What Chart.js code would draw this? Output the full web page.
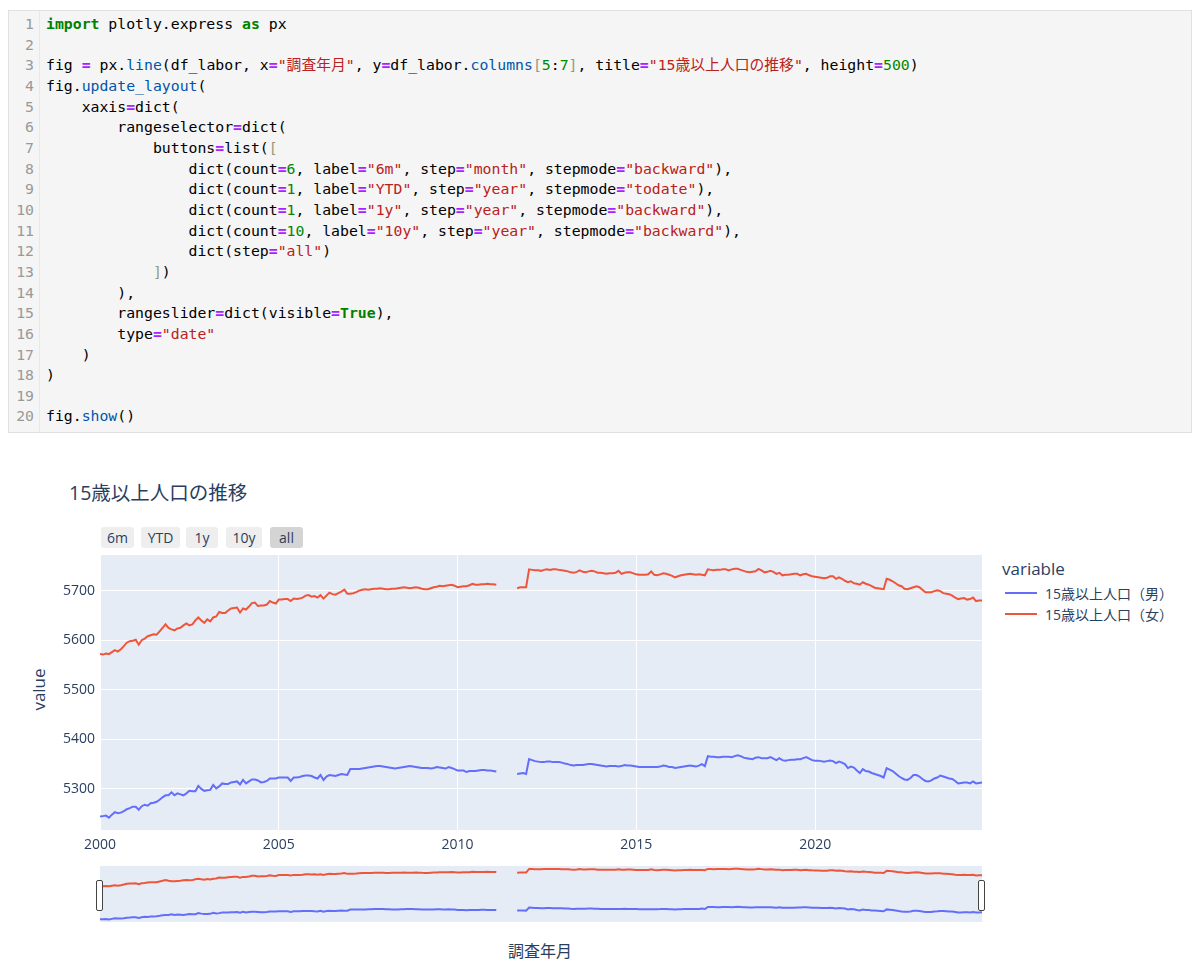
<!DOCTYPE html>
<html>
<head>
<meta charset="utf-8">
<script src="https://cdn.jsdelivr.net/npm/chart.js@4.4.1/dist/chart.umd.min.js"></script>
<style>
  body { margin: 0; background: #fff; }
  #page { position: relative; width: 1200px; height: 968px; overflow: hidden; }
  .cell { position: absolute; left: 8px; top: 10px; width: 1184px; height: 423px;
    background: #f5f5f5; border: 1px solid #e0e0e0; box-sizing: border-box; }
  .gutter { position: absolute; left: 0; top: 0; width: 30px; height: 100%;
    border-right: 1px solid #e8e8e8; }
  pre { margin: 0; position: absolute; top: 3px;
    font-family: "DejaVu Sans Mono", "Noto Sans CJK JP", monospace; font-size: 14.8px; line-height: 20.65px; }
  pre.nums { left: 0; width: 25px; text-align: right; color: #999; }
  pre.code { left: 37px; color: #000; }
  .k { color: #008000; font-weight: bold; }
  .o { color: #aa22ff; font-weight: bold; }
  .s { color: #ba2121; }
  .n { color: #008800; }
  .p { color: #0055aa; }
  .b { color: #999977; }
  .txt { position: absolute; font-family: "Open Sans", "Noto Sans CJK JP", sans-serif; color: #2a3f5f; white-space: nowrap; }
  .btn { position: absolute; top: 527px; height: 21px; background: #eeeeee; border-radius: 3px;
    font-family: "Open Sans", sans-serif; font-size: 14px; color: #2a3f5f; text-align: center; line-height: 21px; }
  .handle { position: absolute; top: 880px; width: 5px; height: 29px; background: #fff;
    border: 1px solid #444; border-radius: 2px; }
  .swatch { position: absolute; width: 32px; height: 2px; }
</style>
</head>
<body>
<div id="page">
<div class="cell">
<div class="gutter"></div>
<pre class="nums">1
2
3
4
5
6
7
8
9
10
11
12
13
14
15
16
17
18
19
20</pre>
<pre class="code"><span class="k">import</span> plotly.express <span class="k">as</span> px

fig <span class="o">=</span> px.<span class="p">line</span>(df_labor, x<span class="o">=</span><span class="s">"調査年月"</span>, y<span class="o">=</span>df_labor.<span class="p">columns</span><span class="b">[</span><span class="n">5</span>:<span class="n">7</span><span class="b">]</span>, title<span class="o">=</span><span class="s">"15歳以上人口の推移"</span>, height<span class="o">=</span><span class="n">500</span>)
fig.<span class="p">update_layout</span>(
    xaxis<span class="o">=</span>dict(
        rangeselector<span class="o">=</span>dict(
            buttons<span class="o">=</span>list(<span class="b">[</span>
                dict(count<span class="o">=</span><span class="n">6</span>, label<span class="o">=</span><span class="s">"6m"</span>, step<span class="o">=</span><span class="s">"month"</span>, stepmode<span class="o">=</span><span class="s">"backward"</span>),
                dict(count<span class="o">=</span><span class="n">1</span>, label<span class="o">=</span><span class="s">"YTD"</span>, step<span class="o">=</span><span class="s">"year"</span>, stepmode<span class="o">=</span><span class="s">"todate"</span>),
                dict(count<span class="o">=</span><span class="n">1</span>, label<span class="o">=</span><span class="s">"1y"</span>, step<span class="o">=</span><span class="s">"year"</span>, stepmode<span class="o">=</span><span class="s">"backward"</span>),
                dict(count<span class="o">=</span><span class="n">10</span>, label<span class="o">=</span><span class="s">"10y"</span>, step<span class="o">=</span><span class="s">"year"</span>, stepmode<span class="o">=</span><span class="s">"backward"</span>),
                dict(step<span class="o">=</span><span class="s">"all"</span>)
            <span class="b">]</span>)
        ),
        rangeslider<span class="o">=</span>dict(visible<span class="o">=</span><span class="k">True</span>),
        type<span class="o">=</span><span class="s">"date"</span>
    )
)

fig.<span class="p">show</span>()</pre>
</div>

<div class="txt" style="left:69px; top:477px; font-size:19.5px;">15歳以上人口の推移</div>

<div class="btn" style="left:101px; width:33px;">6m</div>
<div class="btn" style="left:141px; width:39px;">YTD</div>
<div class="btn" style="left:186px; width:32px;">1y</div>
<div class="btn" style="left:226px; width:36px;">10y</div>
<div class="btn" style="left:270px; width:33px; background:#d4d4d4;">all</div>

<div class="txt" style="left:14px; top:678px; font-size:17px; transform:rotate(-90deg); transform-origin:center; width:48px; text-align:center;">value</div>

<div style="position:absolute; left:0; top:555px; width:1000px; height:305px;"><canvas id="main"></canvas></div>

<div style="position:absolute; left:100px; top:866px; width:882px; height:56px; background:#E5ECF6;"><canvas id="slider"></canvas></div>
<div class="handle" style="left:96px;"></div>
<div class="handle" style="left:978px;"></div>

<div class="txt" style="left:508px; top:938px; font-size:16px;">調査年月</div>

<div class="txt" style="left:1002px; top:557px; font-size:17px;">variable</div>
<div class="swatch" style="left:1005px; top:592px; background:#636EFA;"></div>
<div class="txt" style="left:1045px; top:583px; font-size:14px;">15歳以上人口（男）</div>
<div class="swatch" style="left:1005px; top:613px; background:#EF553B;"></div>
<div class="txt" style="left:1045px; top:604px; font-size:14px;">15歳以上人口（女）</div>
</div>

<script>
// 調査年月: monthly from 2000-01 to 2024-09 (2011-03..08 missing)
const startYear = 2000;
const seriesNames = ['15歳以上人口（男）', '15歳以上人口（女）'];
const yearTicks = [2000, 2005, 2010, 2015, 2020];
const valueTicks = [5300, 5400, 5500, 5600, 5700];

const male = [
  5244, 5245, 5246, 5242, 5248, 5253, 5251, 5252, 5255, 5259, 5261, 5264,
  5264, 5258, 5265, 5268, 5266, 5271, 5272, 5274, 5278, 5283, 5287, 5287,
  5293, 5287, 5291, 5289, 5287, 5291, 5296, 5295, 5295, 5306, 5300, 5296,
  5297, 5298, 5308, 5301, 5305, 5311, 5310, 5310, 5313, 5314, 5315, 5309,
  5318, 5311, 5315, 5319, 5319, 5317, 5313, 5314, 5316, 5321, 5321, 5321,
  5323, 5323, 5323, 5323, 5316, 5323, 5323, 5324, 5326, 5327, 5327, 5326,
  5323, 5321, 5328, 5318, 5325, 5328, 5327, 5326, 5328, 5330, 5329, 5328,
  5340, 5340, 5340, 5340, 5341, 5342, 5343, 5344, 5345, 5346, 5346, 5345,
  5344, 5343, 5342, 5341, 5342, 5343, 5344, 5345, 5346, 5345, 5344, 5343,
  5342, 5342, 5342, 5341, 5342, 5344, 5343, 5342, 5341, 5344, 5342, 5340,
  5337, 5337, 5337, 5334, 5336, 5336, 5336, 5337, 5338, 5338, 5337, 5337,
  5336, 5335, null, null, null, null, null, null, 5330, 5331, 5332, 5330,
  5360, 5358, 5356, 5355, 5354, 5354, 5355, 5355, 5354, 5354, 5354, 5353,
  5351, 5350, 5348, 5347, 5348, 5348, 5348, 5349, 5350, 5350, 5349, 5348,
  5347, 5346, 5345, 5346, 5346, 5346, 5345, 5346, 5348, 5347, 5347, 5346,
  5345, 5344, 5344, 5344, 5344, 5344, 5344, 5344, 5345, 5347, 5346, 5344,
  5344, 5342, 5343, 5344, 5345, 5346, 5347, 5346, 5345, 5347, 5350, 5346,
  5366, 5365, 5365, 5364, 5364, 5365, 5365, 5365, 5364, 5366, 5368, 5366,
  5363, 5362, 5361, 5360, 5363, 5364, 5362, 5362, 5362, 5364, 5361, 5358,
  5362, 5358, 5357, 5358, 5359, 5359, 5360, 5360, 5362, 5364, 5361, 5358,
  5357, 5357, 5356, 5355, 5356, 5357, 5356, 5352, 5355, 5353, 5350, 5342,
  5345, 5343, 5337, 5332, 5340, 5336, 5335, 5332, 5330, 5328, 5326, 5323,
  5342, 5339, 5336, 5331, 5326, 5322, 5319, 5318, 5322, 5328, 5328, 5325,
  5320, 5316, 5315, 5317, 5321, 5323, 5327, 5325, 5323, 5321, 5320, 5316,
  5311, 5312, 5313, 5313, 5311, 5315, 5311, 5312, 5313
];

const female = [
  5572, 5571, 5573, 5572, 5576, 5580, 5577, 5582, 5588, 5595, 5598, 5599,
  5601, 5591, 5600, 5603, 5608, 5610, 5612, 5611, 5618, 5625, 5632, 5625,
  5622, 5620, 5624, 5625, 5630, 5634, 5630, 5632, 5640, 5646, 5640, 5635,
  5642, 5638, 5646, 5648, 5657, 5655, 5655, 5660, 5664, 5665, 5666, 5656,
  5664, 5662, 5668, 5675, 5676, 5669, 5670, 5670, 5672, 5679, 5676, 5674,
  5682, 5682, 5683, 5683, 5679, 5684, 5683, 5684, 5686, 5690, 5691, 5688,
  5689, 5686, 5691, 5684, 5690, 5696, 5693, 5692, 5695, 5698, 5702, 5694,
  5694, 5695, 5697, 5700, 5702, 5703, 5702, 5703, 5704, 5704, 5705, 5704,
  5703, 5703, 5704, 5704, 5705, 5706, 5707, 5706, 5705, 5706, 5707, 5706,
  5704, 5703, 5703, 5705, 5707, 5708, 5710, 5709, 5710, 5711, 5712, 5710,
  5707, 5708, 5709, 5709, 5711, 5714, 5712, 5712, 5713, 5713, 5714, 5713,
  5713, 5712, null, null, null, null, null, null, 5705, 5707, 5707, 5707,
  5743, 5742, 5741, 5741, 5740, 5742, 5743, 5742, 5743, 5743, 5742, 5741,
  5740, 5739, 5737, 5736, 5738, 5741, 5738, 5737, 5739, 5740, 5739, 5736,
  5736, 5735, 5734, 5735, 5735, 5736, 5740, 5734, 5736, 5737, 5737, 5735,
  5733, 5732, 5732, 5732, 5733, 5739, 5732, 5731, 5733, 5735, 5734, 5732,
  5730, 5727, 5729, 5731, 5732, 5733, 5734, 5733, 5732, 5733, 5732, 5731,
  5743, 5742, 5741, 5742, 5742, 5743, 5743, 5741, 5743, 5744, 5744, 5742,
  5740, 5738, 5737, 5738, 5739, 5744, 5741, 5737, 5738, 5740, 5738, 5734,
  5736, 5731, 5732, 5732, 5733, 5734, 5734, 5731, 5733, 5734, 5731, 5729,
  5728, 5727, 5726, 5725, 5726, 5729, 5729, 5724, 5727, 5724, 5720, 5717,
  5719, 5715, 5714, 5712, 5717, 5714, 5712, 5709, 5706, 5705, 5704, 5703,
  5724, 5722, 5719, 5715, 5711, 5709, 5704, 5703, 5705, 5707, 5709, 5707,
  5702, 5697, 5697, 5697, 5699, 5701, 5699, 5695, 5694, 5693, 5690, 5686,
  5683, 5684, 5685, 5682, 5683, 5686, 5679, 5680, 5680
];

// x position of each survey month as a fractional year
const months = male.map((_, i) => startYear + i / 12);

const textColor = '#2a3f5f';
const fontFamily = "'Open Sans', 'Noto Sans CJK JP', sans-serif";
const xMin = months[0], xMax = months[months.length - 1];
const yMin = 5217, yMax = 5772;

const plotBg = {
  id: 'plotBg',
  beforeDraw(chart) {
    const a = chart.chartArea, ctx = chart.ctx;
    ctx.save();
    ctx.fillStyle = '#E5ECF6';
    ctx.fillRect(a.left, a.top, a.right - a.left, a.bottom - a.top);
    ctx.restore();
  }
};

function makeDatasets(width) {
  return [
    { label: seriesNames[0], data: male, borderColor: '#636EFA', borderWidth: width, pointRadius: 0, tension: 0, spanGaps: false },
    { label: seriesNames[1], data: female, borderColor: '#EF553B', borderWidth: width, pointRadius: 0, tension: 0, spanGaps: false }
  ];
}

new Chart(document.getElementById('main'), {
  type: 'line',
  data: { labels: months, datasets: makeDatasets(2) },
  options: {
    responsive: true,
    maintainAspectRatio: false,
    animation: false,
    layout: { padding: { left: 0, right: 18, top: 0, bottom: 0 } },
    plugins: { legend: { display: false }, tooltip: { enabled: false } },
    scales: {
      x: {
        type: 'linear',
        min: xMin,
        max: xMax,
        afterBuildTicks: s => { s.ticks = yearTicks.map(v => ({ value: v })); },
        afterFit: s => { s.height = 30; s.paddingLeft = 0; s.paddingRight = 0; },
        grid: { color: '#ffffff', lineWidth: 1, drawTicks: false },
        border: { display: false },
        ticks: { padding: 7, color: textColor, font: { family: fontFamily, size: 14 }, callback: v => String(v) }
      },
      y: {
        min: yMin,
        max: yMax,
        afterBuildTicks: s => { s.ticks = valueTicks.map(v => ({ value: v })); },
        afterFit: s => { s.width = 100; s.paddingTop = 0; s.paddingBottom = 0; },
        grid: { color: '#ffffff', lineWidth: 1, drawTicks: false },
        border: { display: false },
        ticks: { padding: 5, color: textColor, font: { family: fontFamily, size: 14 }, callback: v => String(v) }
      }
    }
  },
  plugins: [plotBg]
});

new Chart(document.getElementById('slider'), {
  type: 'line',
  data: { labels: months, datasets: makeDatasets(2) },
  options: {
    responsive: true,
    maintainAspectRatio: false,
    animation: false,
    layout: { padding: 0 },
    plugins: { legend: { display: false }, tooltip: { enabled: false } },
    scales: {
      x: { type: 'linear', min: xMin, max: xMax, display: false },
      y: { min: yMin, max: yMax, display: false }
    }
  }
});
</script>
</body>
</html>
